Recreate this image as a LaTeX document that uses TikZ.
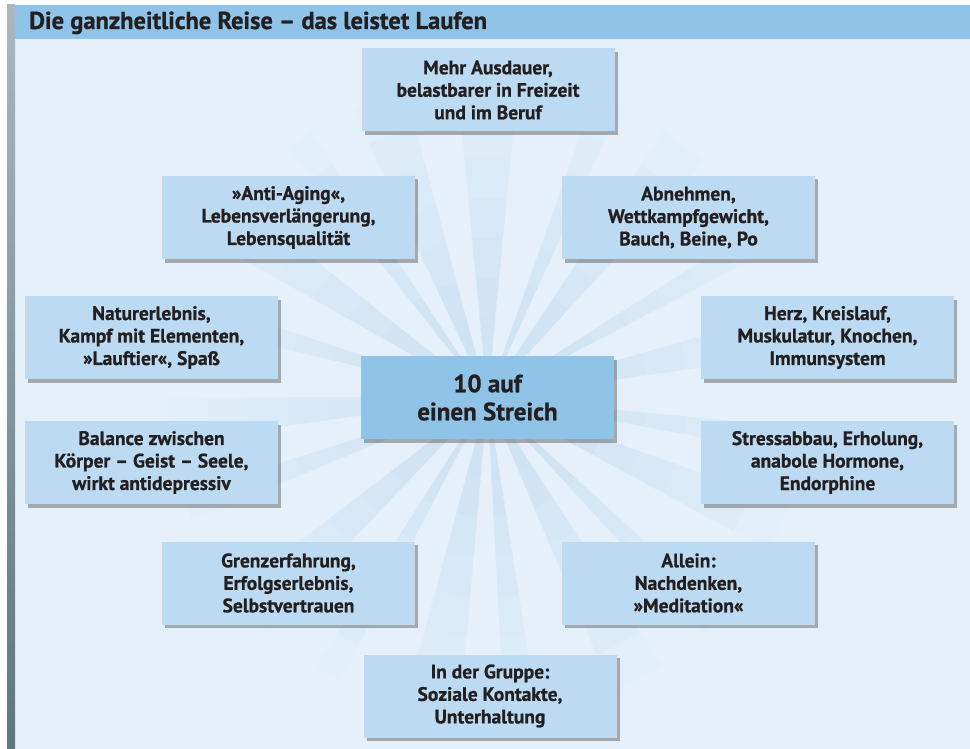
\documentclass[tikz,border=0pt]{standalone}
\usepackage{fontspec}
\setmainfont{PT Sans}[BoldFeatures={FakeBold=0.8}]
\usetikzlibrary{shadows}
\definecolor{bg}{HTML}{E6F0FA}
\definecolor{titlebg}{HTML}{90C3E8}
\definecolor{boxbg}{HTML}{BCDAF1}
\definecolor{centerbg}{HTML}{90C3E8}
\definecolor{ink}{HTML}{231F20}
\definecolor{raycol}{HTML}{B8D7F0}
\definecolor{bartop}{HTML}{A9B8C2}
\definecolor{barbot}{HTML}{5F7580}
\begin{document}
\begin{tikzpicture}[x=1pt,y=-1pt,
  item/.style={fill=boxbg, minimum width=253pt, minimum height=83pt, inner sep=0pt,
    align=center, font=\bfseries\fontsize{19.5}{22.5}\selectfont, text=ink,
    drop shadow={shadow xshift=3pt, shadow yshift=-3.5pt, fill=black!75, opacity=0.4}},
  hub/.style={item, fill=centerbg, font=\bfseries\fontsize{25}{28}\selectfont},
  titletext/.style={anchor=base west, inner sep=0pt, text=ink, font=\bfseries\fontsize{24.5}{26}\selectfont}]
\useasboundingbox (0,0) rectangle (970,749);
% background
\fill[white] (0,0) rectangle (970,749);
\fill[bg] (15,39) rectangle (970,749);
\fill[titlebg] (15,5) rectangle (970,39);
\shade[top color=bartop, bottom color=barbot] (7,5) rectangle (15,749);
\node[titletext] (title) at (29,29) {Die ganzheitliche Reise – das leistet Laufen};
% rays
\coordinate (c) at (487.5,397.5);
\foreach \a/\w in {-90/11, -68/5, -52/9, -30/5, -12/8, 8/5, 24/9, 45/5, 62/10, 84/6, 100/10, 120/5, 138/9, 160/5, 176/8, 196/5, 214/9, 234/5, 250/10}{
  \foreach \R in {80,120,...,320}{
    \fill[raycol, opacity=0.075] (c) -- +(\a-\w/2:\R) -- +(\a+\w/2:\R) -- cycle;
  }
}
% nodes
\node[item] (ausdauer) at (488,90) {Mehr Ausdauer,\\belastbarer in Freizeit\\und im Beruf};
\node[item] (aging) at (288.5,217.5) {»Anti-Aging«,\\Lebensverlängerung,\\Lebensqualität};
\node[item] (abnehmen) at (688.5,217.5) {Abnehmen,\\Wettkampfgewicht,\\Bauch, Beine, Po};
\node[item] (natur) at (151.5,337.5) {Naturerlebnis,\\Kampf mit Elementen,\\»Lauftier«, Spaß};
\node[item] (herz) at (827.5,337.5) {Herz, Kreislauf,\\Muskulatur, Knochen,\\Immunsystem};
\node[hub] (center) at (487.5,397.5) {10 auf\\einen Streich};
\node[item] (balance) at (151.5,462.5) {Balance zwischen\\Körper – Geist – Seele,\\wirkt antidepressiv};
\node[item] (stress) at (827.5,462.5) {Stressabbau, Erholung,\\anabole Hormone,\\Endorphine};
\node[item] (grenz) at (288.5,583) {Grenzerfahrung,\\Erfolgserlebnis,\\Selbstvertrauen};
\node[item] (allein) at (688.5,583) {Allein:\\Nachdenken,\\»Meditation«};
\node[item] (gruppe) at (490,696) {In der Gruppe:\\Soziale Kontakte,\\Unterhaltung};
\end{tikzpicture}
\end{document}
